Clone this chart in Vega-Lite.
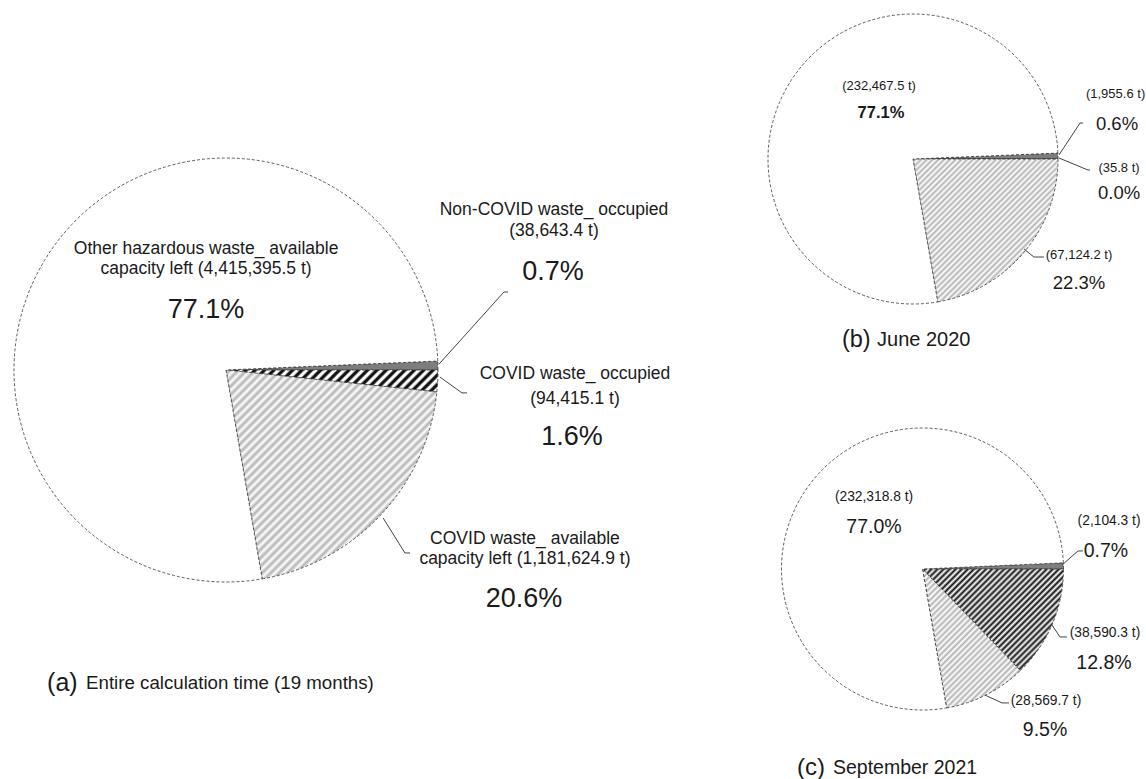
{
  "$schema": "https://vega.github.io/schema/vega-lite/v6.json",
  "padding": 0,
  "background": "#ffffff",
  "bounds": "flush",
  "spacing": 328,
  "config": {"view": {"stroke": null}},
  "datasets": {
    "slices": [
      {"panel": "a", "k": 1, "part": "Non-COVID waste_ occupied", "t": 38643.4},
      {"panel": "a", "k": 2, "part": "COVID waste_ occupied", "t": 94415.1},
      {"panel": "a", "k": 3, "part": "COVID waste_ available capacity left", "t": 1181624.9},
      {"panel": "a", "k": 4, "part": "Other hazardous waste_ available capacity left", "t": 4415395.5},
      {"panel": "b", "k": 1, "part": "Non-COVID waste_ occupied", "t": 1955.6},
      {"panel": "b", "k": 2, "part": "COVID waste_ occupied", "t": 35.8},
      {"panel": "b", "k": 3, "part": "COVID waste_ available capacity left", "t": 67124.2},
      {"panel": "b", "k": 4, "part": "Other hazardous waste_ available capacity left", "t": 232467.5},
      {"panel": "c", "k": 1, "part": "Non-COVID waste_ occupied", "t": 2104.3},
      {"panel": "c", "k": 2, "part": "COVID waste_ occupied", "t": 38590.3},
      {"panel": "c", "k": 3, "part": "COVID waste_ available capacity left", "t": 28569.7},
      {"panel": "c", "k": 4, "part": "Other hazardous waste_ available capacity left", "t": 232318.8}
    ],
    "labels": [
      {"panel": "a", "role": "name", "text": "Other hazardous waste_ available", "x": -0.094, "y": 0.571},
      {"panel": "a", "role": "name", "text": "capacity left (4,415,395.5 t)", "x": -0.094, "y": 0.476},
      {"panel": "a", "role": "pct", "text": "77.1%", "x": -0.094, "y": 0.283},
      {"panel": "a", "role": "name", "text": "Non-COVID waste_ occupied", "x": 1.547, "y": 0.755},
      {"panel": "a", "role": "name", "text": "(38,643.4 t)", "x": 1.547, "y": 0.656},
      {"panel": "a", "role": "pct", "text": "0.7%", "x": 1.542, "y": 0.462},
      {"panel": "a", "role": "name", "text": "COVID waste_ occupied", "x": 1.646, "y": -0.019},
      {"panel": "a", "role": "name", "text": "(94,415.1 t)", "x": 1.646, "y": -0.137},
      {"panel": "a", "role": "pct", "text": "1.6%", "x": 1.632, "y": -0.316},
      {"panel": "a", "role": "name", "text": "COVID waste_ available", "x": 1.41, "y": -0.797},
      {"panel": "a", "role": "name", "text": "capacity left (1,181,624.9 t)", "x": 1.41, "y": -0.892},
      {"panel": "a", "role": "pct", "text": "20.6%", "x": 1.406, "y": -1.08},
      {"panel": "a", "role": "tag", "text": "(a)", "x": -0.844, "y": -1.476},
      {"panel": "a", "role": "cap", "text": "Entire calculation time (19 months)", "x": -0.66, "y": -1.476},
      {"panel": "b", "role": "tonnes", "text": "(232,467.5 t)", "x": -0.234, "y": 0.503},
      {"panel": "b", "role": "pctb", "text": "77.1%", "x": -0.221, "y": 0.317},
      {"panel": "b", "role": "tonnes", "text": "(1,955.6 t)", "x": 1.397, "y": 0.448},
      {"panel": "b", "role": "pct", "text": "0.6%", "x": 1.407, "y": 0.241},
      {"panel": "b", "role": "tonnes", "text": "(35.8 t)", "x": 1.421, "y": -0.062},
      {"panel": "b", "role": "pct", "text": "0.0%", "x": 1.421, "y": -0.234},
      {"panel": "b", "role": "tonnes", "text": "(67,124.2 t)", "x": 1.145, "y": -0.662},
      {"panel": "b", "role": "pct", "text": "22.3%", "x": 1.145, "y": -0.855},
      {"panel": "b", "role": "tag", "text": "(b)", "x": -0.49, "y": -1.248},
      {"panel": "b", "role": "cap", "text": "June 2020", "x": -0.248, "y": -1.248},
      {"panel": "c", "role": "tonnes", "text": "(232,318.8 t)", "x": -0.344, "y": 0.511},
      {"panel": "c", "role": "pct", "text": "77.0%", "x": -0.344, "y": 0.298},
      {"panel": "c", "role": "tonnes", "text": "(2,104.3 t)", "x": 1.323, "y": 0.34},
      {"panel": "c", "role": "pct", "text": "0.7%", "x": 1.301, "y": 0.128},
      {"panel": "c", "role": "tonnes", "text": "(38,590.3 t)", "x": 1.294, "y": -0.454},
      {"panel": "c", "role": "pct", "text": "12.8%", "x": 1.287, "y": -0.667},
      {"panel": "c", "role": "tonnes", "text": "(28,569.7 t)", "x": 0.876, "y": -0.936},
      {"panel": "c", "role": "pct", "text": "9.5%", "x": 0.869, "y": -1.142},
      {"panel": "c", "role": "tag", "text": "(c)", "x": -0.89, "y": -1.411},
      {"panel": "c", "role": "cap", "text": "September 2021", "x": -0.635, "y": -1.411}
    ],
    "leaders": [
      {"panel": "a", "id": 1, "i": 0, "x": 1.005, "y": 0.028},
      {"panel": "a", "id": 1, "i": 1, "x": 1.311, "y": 0.368},
      {"panel": "a", "id": 1, "i": 2, "x": 1.33, "y": 0.368},
      {"panel": "a", "id": 2, "i": 0, "x": 1.009, "y": -0.033},
      {"panel": "a", "id": 2, "i": 1, "x": 1.113, "y": -0.108},
      {"panel": "a", "id": 2, "i": 2, "x": 1.137, "y": -0.108},
      {"panel": "a", "id": 3, "i": 0, "x": 0.741, "y": -0.698},
      {"panel": "a", "id": 3, "i": 1, "x": 0.844, "y": -0.863},
      {"panel": "a", "id": 3, "i": 2, "x": 0.868, "y": -0.863},
      {"panel": "b", "id": 1, "i": 0, "x": 1.007, "y": 0.028},
      {"panel": "b", "id": 1, "i": 1, "x": 1.152, "y": 0.248},
      {"panel": "b", "id": 1, "i": 2, "x": 1.172, "y": 0.248},
      {"panel": "b", "id": 2, "i": 0, "x": 1.007, "y": 0.007},
      {"panel": "b", "id": 2, "i": 1, "x": 1.207, "y": -0.076},
      {"panel": "b", "id": 2, "i": 2, "x": 1.221, "y": -0.076},
      {"panel": "b", "id": 3, "i": 0, "x": 0.766, "y": -0.621},
      {"panel": "b", "id": 3, "i": 1, "x": 0.834, "y": -0.676},
      {"panel": "b", "id": 3, "i": 2, "x": 0.903, "y": -0.676},
      {"panel": "c", "id": 1, "i": 0, "x": 0.989, "y": 0.028},
      {"panel": "c", "id": 1, "i": 1, "x": 1.103, "y": 0.128},
      {"panel": "c", "id": 1, "i": 2, "x": 1.138, "y": 0.128},
      {"panel": "c", "id": 2, "i": 0, "x": 0.918, "y": -0.397},
      {"panel": "c", "id": 2, "i": 1, "x": 0.975, "y": -0.482},
      {"panel": "c", "id": 2, "i": 2, "x": 1.025, "y": -0.482},
      {"panel": "c", "id": 3, "i": 0, "x": 0.443, "y": -0.894},
      {"panel": "c", "id": 3, "i": 1, "x": 0.564, "y": -0.95},
      {"panel": "c", "id": 3, "i": 2, "x": 0.613, "y": -0.95}
    ]
  },
  "hconcat": [
    {
      "width": 452,
      "height": 740,
      "layer": [
        {
          "data": {"name": "slices"},
          "transform": [{"filter": "datum.panel === 'a'"}],
          "mark": {"type": "arc", "outerRadius": 212, "stroke": "#333333", "strokeWidth": 0.8, "strokeDash": [3, 2]},
          "encoding": {
            "theta": {"field": "t", "type": "quantitative", "stack": true, "scale": {"range": [1.528422, 7.811607], "nice": false}},
            "order": {"field": "k", "type": "quantitative"},
            "fill": {
              "condition": [
                {"test": "datum.k === 1", "value": "#7d7d7d"},
                {"test": "datum.k === 2", "value": {"gradient": "linear", "x1": 0, "y1": 0, "x2": 1.092, "y2": 0.1133, "stops": [
                  {"offset": 0, "color": "#111"}, {"offset": 0.01, "color": "#111"}, {"offset": 0.02, "color": "#fff"}, {"offset": 0.03, "color": "#fff"},
                  {"offset": 0.04, "color": "#111"}, {"offset": 0.05, "color": "#111"}, {"offset": 0.06, "color": "#fff"}, {"offset": 0.07, "color": "#fff"},
                  {"offset": 0.08, "color": "#111"}, {"offset": 0.09, "color": "#111"}, {"offset": 0.1, "color": "#fff"}, {"offset": 0.11, "color": "#fff"},
                  {"offset": 0.12, "color": "#111"}, {"offset": 0.13, "color": "#111"}, {"offset": 0.14, "color": "#fff"}, {"offset": 0.15, "color": "#fff"},
                  {"offset": 0.16, "color": "#111"}, {"offset": 0.17, "color": "#111"}, {"offset": 0.18, "color": "#fff"}, {"offset": 0.19, "color": "#fff"},
                  {"offset": 0.2, "color": "#111"}, {"offset": 0.21, "color": "#111"}, {"offset": 0.22, "color": "#fff"}, {"offset": 0.23, "color": "#fff"},
                  {"offset": 0.24, "color": "#111"}, {"offset": 0.25, "color": "#111"}, {"offset": 0.26, "color": "#fff"}, {"offset": 0.27, "color": "#fff"},
                  {"offset": 0.28, "color": "#111"}, {"offset": 0.29, "color": "#111"}, {"offset": 0.3, "color": "#fff"}, {"offset": 0.31, "color": "#fff"},
                  {"offset": 0.32, "color": "#111"}, {"offset": 0.33, "color": "#111"}, {"offset": 0.34, "color": "#fff"}, {"offset": 0.35, "color": "#fff"},
                  {"offset": 0.36, "color": "#111"}, {"offset": 0.37, "color": "#111"}, {"offset": 0.38, "color": "#fff"}, {"offset": 0.39, "color": "#fff"},
                  {"offset": 0.4, "color": "#111"}, {"offset": 0.41, "color": "#111"}, {"offset": 0.42, "color": "#fff"}, {"offset": 0.43, "color": "#fff"},
                  {"offset": 0.44, "color": "#111"}, {"offset": 0.45, "color": "#111"}, {"offset": 0.46, "color": "#fff"}, {"offset": 0.47, "color": "#fff"},
                  {"offset": 0.48, "color": "#111"}, {"offset": 0.49, "color": "#111"}, {"offset": 0.5, "color": "#fff"}, {"offset": 0.51, "color": "#fff"},
                  {"offset": 0.52, "color": "#111"}, {"offset": 0.53, "color": "#111"}, {"offset": 0.54, "color": "#fff"}, {"offset": 0.55, "color": "#fff"},
                  {"offset": 0.56, "color": "#111"}, {"offset": 0.57, "color": "#111"}, {"offset": 0.58, "color": "#fff"}, {"offset": 0.59, "color": "#fff"},
                  {"offset": 0.6, "color": "#111"}, {"offset": 0.61, "color": "#111"}, {"offset": 0.62, "color": "#fff"}, {"offset": 0.63, "color": "#fff"},
                  {"offset": 0.64, "color": "#111"}, {"offset": 0.65, "color": "#111"}, {"offset": 0.66, "color": "#fff"}, {"offset": 0.67, "color": "#fff"},
                  {"offset": 0.68, "color": "#111"}, {"offset": 0.69, "color": "#111"}, {"offset": 0.7, "color": "#fff"}, {"offset": 0.71, "color": "#fff"},
                  {"offset": 0.72, "color": "#111"}, {"offset": 0.73, "color": "#111"}, {"offset": 0.74, "color": "#fff"}, {"offset": 0.75, "color": "#fff"},
                  {"offset": 0.76, "color": "#111"}, {"offset": 0.77, "color": "#111"}, {"offset": 0.78, "color": "#fff"}, {"offset": 0.79, "color": "#fff"},
                  {"offset": 0.8, "color": "#111"}, {"offset": 0.81, "color": "#111"}, {"offset": 0.82, "color": "#fff"}, {"offset": 0.83, "color": "#fff"},
                  {"offset": 0.84, "color": "#111"}, {"offset": 0.85, "color": "#111"}, {"offset": 0.86, "color": "#fff"}, {"offset": 0.87, "color": "#fff"},
                  {"offset": 0.88, "color": "#111"}, {"offset": 0.89, "color": "#111"}, {"offset": 0.9, "color": "#fff"}, {"offset": 0.91, "color": "#fff"},
                  {"offset": 0.92, "color": "#111"}, {"offset": 0.93, "color": "#111"}, {"offset": 0.94, "color": "#fff"}, {"offset": 0.95, "color": "#fff"},
                  {"offset": 0.96, "color": "#111"}, {"offset": 0.97, "color": "#111"}, {"offset": 0.98, "color": "#fff"}, {"offset": 0.99, "color": "#fff"},
                  {"offset": 1, "color": "#111"}
                ]}},
                {"test": "datum.k === 3", "value": {"gradient": "linear", "x1": 0, "y1": 0, "x2": 1.0048, "y2": 0.9953, "stops": [
                  {"offset": 0, "color": "#fff"}, {"offset": 0.01, "color": "#b3b3b3"}, {"offset": 0.02, "color": "#fff"}, {"offset": 0.03, "color": "#b3b3b3"},
                  {"offset": 0.04, "color": "#fff"}, {"offset": 0.05, "color": "#b3b3b3"}, {"offset": 0.06, "color": "#fff"}, {"offset": 0.07, "color": "#b3b3b3"},
                  {"offset": 0.08, "color": "#fff"}, {"offset": 0.09, "color": "#b3b3b3"}, {"offset": 0.1, "color": "#fff"}, {"offset": 0.11, "color": "#b3b3b3"},
                  {"offset": 0.12, "color": "#fff"}, {"offset": 0.13, "color": "#b3b3b3"}, {"offset": 0.14, "color": "#fff"}, {"offset": 0.15, "color": "#b3b3b3"},
                  {"offset": 0.16, "color": "#fff"}, {"offset": 0.17, "color": "#b3b3b3"}, {"offset": 0.18, "color": "#fff"}, {"offset": 0.19, "color": "#b3b3b3"},
                  {"offset": 0.2, "color": "#fff"}, {"offset": 0.21, "color": "#b3b3b3"}, {"offset": 0.22, "color": "#fff"}, {"offset": 0.23, "color": "#b3b3b3"},
                  {"offset": 0.24, "color": "#fff"}, {"offset": 0.25, "color": "#b3b3b3"}, {"offset": 0.26, "color": "#fff"}, {"offset": 0.27, "color": "#b3b3b3"},
                  {"offset": 0.28, "color": "#fff"}, {"offset": 0.29, "color": "#b3b3b3"}, {"offset": 0.3, "color": "#fff"}, {"offset": 0.31, "color": "#b3b3b3"},
                  {"offset": 0.32, "color": "#fff"}, {"offset": 0.33, "color": "#b3b3b3"}, {"offset": 0.34, "color": "#fff"}, {"offset": 0.35, "color": "#b3b3b3"},
                  {"offset": 0.36, "color": "#fff"}, {"offset": 0.37, "color": "#b3b3b3"}, {"offset": 0.38, "color": "#fff"}, {"offset": 0.39, "color": "#b3b3b3"},
                  {"offset": 0.4, "color": "#fff"}, {"offset": 0.41, "color": "#b3b3b3"}, {"offset": 0.42, "color": "#fff"}, {"offset": 0.43, "color": "#b3b3b3"},
                  {"offset": 0.44, "color": "#fff"}, {"offset": 0.45, "color": "#b3b3b3"}, {"offset": 0.46, "color": "#fff"}, {"offset": 0.47, "color": "#b3b3b3"},
                  {"offset": 0.48, "color": "#fff"}, {"offset": 0.49, "color": "#b3b3b3"}, {"offset": 0.5, "color": "#fff"}, {"offset": 0.51, "color": "#b3b3b3"},
                  {"offset": 0.52, "color": "#fff"}, {"offset": 0.53, "color": "#b3b3b3"}, {"offset": 0.54, "color": "#fff"}, {"offset": 0.55, "color": "#b3b3b3"},
                  {"offset": 0.56, "color": "#fff"}, {"offset": 0.57, "color": "#b3b3b3"}, {"offset": 0.58, "color": "#fff"}, {"offset": 0.59, "color": "#b3b3b3"},
                  {"offset": 0.6, "color": "#fff"}, {"offset": 0.61, "color": "#b3b3b3"}, {"offset": 0.62, "color": "#fff"}, {"offset": 0.63, "color": "#b3b3b3"},
                  {"offset": 0.64, "color": "#fff"}, {"offset": 0.65, "color": "#b3b3b3"}, {"offset": 0.66, "color": "#fff"}, {"offset": 0.67, "color": "#b3b3b3"},
                  {"offset": 0.68, "color": "#fff"}, {"offset": 0.69, "color": "#b3b3b3"}, {"offset": 0.7, "color": "#fff"}, {"offset": 0.71, "color": "#b3b3b3"},
                  {"offset": 0.72, "color": "#fff"}, {"offset": 0.73, "color": "#b3b3b3"}, {"offset": 0.74, "color": "#fff"}, {"offset": 0.75, "color": "#b3b3b3"},
                  {"offset": 0.76, "color": "#fff"}, {"offset": 0.77, "color": "#b3b3b3"}, {"offset": 0.78, "color": "#fff"}, {"offset": 0.79, "color": "#b3b3b3"},
                  {"offset": 0.8, "color": "#fff"}, {"offset": 0.81, "color": "#b3b3b3"}, {"offset": 0.82, "color": "#fff"}, {"offset": 0.83, "color": "#b3b3b3"},
                  {"offset": 0.84, "color": "#fff"}, {"offset": 0.85, "color": "#b3b3b3"}, {"offset": 0.86, "color": "#fff"}, {"offset": 0.87, "color": "#b3b3b3"},
                  {"offset": 0.88, "color": "#fff"}, {"offset": 0.89, "color": "#b3b3b3"}, {"offset": 0.9, "color": "#fff"}, {"offset": 0.91, "color": "#b3b3b3"},
                  {"offset": 0.92, "color": "#fff"}, {"offset": 0.93, "color": "#b3b3b3"}, {"offset": 0.94, "color": "#fff"}, {"offset": 0.95, "color": "#b3b3b3"},
                  {"offset": 0.96, "color": "#fff"}, {"offset": 0.97, "color": "#b3b3b3"}, {"offset": 0.98, "color": "#fff"}, {"offset": 0.99, "color": "#b3b3b3"},
                  {"offset": 1, "color": "#fff"}
                ]}}
              ],
              "value": "#ffffff"
            }
          }
        },
        {
          "data": {"name": "leaders"},
          "transform": [{"filter": "datum.panel === 'a'"}],
          "mark": {"type": "line", "stroke": "#444444", "strokeWidth": 1},
          "encoding": {
            "x": {"field": "x", "type": "quantitative", "scale": {"domain": [-1.066, 1.066], "nice": false, "zero": false}, "axis": null},
            "y": {"field": "y", "type": "quantitative", "scale": {"domain": [-1.7453, 1.7453], "nice": false, "zero": false}, "axis": null},
            "detail": {"field": "id", "type": "nominal"},
            "order": {"field": "i", "type": "quantitative"}
          }
        },
        {
          "data": {"name": "labels"},
          "transform": [{"filter": "datum.panel === 'a' && (datum.role === 'name' || datum.role === 'pct')"}],
          "mark": {"type": "text", "align": "center", "baseline": "middle", "font": "Liberation Sans", "color": "#1a1a1a"},
          "encoding": {
            "x": {"field": "x", "type": "quantitative", "scale": {"domain": [-1.066, 1.066], "nice": false, "zero": false}, "axis": null},
            "y": {"field": "y", "type": "quantitative", "scale": {"domain": [-1.7453, 1.7453], "nice": false, "zero": false}, "axis": null},
            "text": {"field": "text"},
            "size": {"condition": {"test": "datum.role === 'pct'", "value": 27}, "value": 17.5}
          }
        },
        {
          "data": {"name": "labels"},
          "transform": [{"filter": "datum.panel === 'a' && (datum.role === 'tag' || datum.role === 'cap')"}],
          "mark": {"type": "text", "align": "left", "baseline": "middle", "font": "Liberation Sans", "color": "#1a1a1a"},
          "encoding": {
            "x": {"field": "x", "type": "quantitative", "scale": {"domain": [-1.066, 1.066], "nice": false, "zero": false}, "axis": null},
            "y": {"field": "y", "type": "quantitative", "scale": {"domain": [-1.7453, 1.7453], "nice": false, "zero": false}, "axis": null},
            "text": {"field": "text"},
            "size": {"condition": {"test": "datum.role === 'tag'", "value": 25}, "value": 18.7}
          }
        }
      ]
    },
    {
      "vconcat": [
        {
          "width": 266,
          "height": 318,
          "layer": [
            {
              "data": {"name": "slices"},
              "transform": [{"filter": "datum.panel === 'b'"}],
              "mark": {"type": "arc", "outerRadius": 145, "stroke": "#333333", "strokeWidth": 0.8, "strokeDash": [3, 2]},
              "encoding": {
                "theta": {"field": "t", "type": "quantitative", "stack": true, "scale": {"range": [1.530053, 7.813238], "nice": false}},
                "order": {"field": "k", "type": "quantitative"},
                "fill": {
                  "condition": [
                    {"test": "datum.k === 1", "value": "#7d7d7d"},
                    {"test": "datum.k === 2", "value": "#111111"},
                    {"test": "datum.k === 3", "value": {"gradient": "linear", "x1": 0, "y1": 0, "x2": 1.0073, "y2": 0.9927, "stops": [
                      {"offset": 0, "color": "#fff"}, {"offset": 0.01, "color": "#b3b3b3"}, {"offset": 0.02, "color": "#fff"}, {"offset": 0.03, "color": "#b3b3b3"},
                      {"offset": 0.04, "color": "#fff"}, {"offset": 0.05, "color": "#b3b3b3"}, {"offset": 0.06, "color": "#fff"}, {"offset": 0.07, "color": "#b3b3b3"},
                      {"offset": 0.08, "color": "#fff"}, {"offset": 0.09, "color": "#b3b3b3"}, {"offset": 0.1, "color": "#fff"}, {"offset": 0.11, "color": "#b3b3b3"},
                      {"offset": 0.12, "color": "#fff"}, {"offset": 0.13, "color": "#b3b3b3"}, {"offset": 0.14, "color": "#fff"}, {"offset": 0.15, "color": "#b3b3b3"},
                      {"offset": 0.16, "color": "#fff"}, {"offset": 0.17, "color": "#b3b3b3"}, {"offset": 0.18, "color": "#fff"}, {"offset": 0.19, "color": "#b3b3b3"},
                      {"offset": 0.2, "color": "#fff"}, {"offset": 0.21, "color": "#b3b3b3"}, {"offset": 0.22, "color": "#fff"}, {"offset": 0.23, "color": "#b3b3b3"},
                      {"offset": 0.24, "color": "#fff"}, {"offset": 0.25, "color": "#b3b3b3"}, {"offset": 0.26, "color": "#fff"}, {"offset": 0.27, "color": "#b3b3b3"},
                      {"offset": 0.28, "color": "#fff"}, {"offset": 0.29, "color": "#b3b3b3"}, {"offset": 0.3, "color": "#fff"}, {"offset": 0.31, "color": "#b3b3b3"},
                      {"offset": 0.32, "color": "#fff"}, {"offset": 0.33, "color": "#b3b3b3"}, {"offset": 0.34, "color": "#fff"}, {"offset": 0.35, "color": "#b3b3b3"},
                      {"offset": 0.36, "color": "#fff"}, {"offset": 0.37, "color": "#b3b3b3"}, {"offset": 0.38, "color": "#fff"}, {"offset": 0.39, "color": "#b3b3b3"},
                      {"offset": 0.4, "color": "#fff"}, {"offset": 0.41, "color": "#b3b3b3"}, {"offset": 0.42, "color": "#fff"}, {"offset": 0.43, "color": "#b3b3b3"},
                      {"offset": 0.44, "color": "#fff"}, {"offset": 0.45, "color": "#b3b3b3"}, {"offset": 0.46, "color": "#fff"}, {"offset": 0.47, "color": "#b3b3b3"},
                      {"offset": 0.48, "color": "#fff"}, {"offset": 0.49, "color": "#b3b3b3"}, {"offset": 0.5, "color": "#fff"}, {"offset": 0.51, "color": "#b3b3b3"},
                      {"offset": 0.52, "color": "#fff"}, {"offset": 0.53, "color": "#b3b3b3"}, {"offset": 0.54, "color": "#fff"}, {"offset": 0.55, "color": "#b3b3b3"},
                      {"offset": 0.56, "color": "#fff"}, {"offset": 0.57, "color": "#b3b3b3"}, {"offset": 0.58, "color": "#fff"}, {"offset": 0.59, "color": "#b3b3b3"},
                      {"offset": 0.6, "color": "#fff"}, {"offset": 0.61, "color": "#b3b3b3"}, {"offset": 0.62, "color": "#fff"}, {"offset": 0.63, "color": "#b3b3b3"},
                      {"offset": 0.64, "color": "#fff"}, {"offset": 0.65, "color": "#b3b3b3"}, {"offset": 0.66, "color": "#fff"}, {"offset": 0.67, "color": "#b3b3b3"},
                      {"offset": 0.68, "color": "#fff"}, {"offset": 0.69, "color": "#b3b3b3"}, {"offset": 0.7, "color": "#fff"}, {"offset": 0.71, "color": "#b3b3b3"},
                      {"offset": 0.72, "color": "#fff"}, {"offset": 0.73, "color": "#b3b3b3"}, {"offset": 0.74, "color": "#fff"}, {"offset": 0.75, "color": "#b3b3b3"},
                      {"offset": 0.76, "color": "#fff"}, {"offset": 0.77, "color": "#b3b3b3"}, {"offset": 0.78, "color": "#fff"}, {"offset": 0.79, "color": "#b3b3b3"},
                      {"offset": 0.8, "color": "#fff"}, {"offset": 0.81, "color": "#b3b3b3"}, {"offset": 0.82, "color": "#fff"}, {"offset": 0.83, "color": "#b3b3b3"},
                      {"offset": 0.84, "color": "#fff"}, {"offset": 0.85, "color": "#b3b3b3"}, {"offset": 0.86, "color": "#fff"}, {"offset": 0.87, "color": "#b3b3b3"},
                      {"offset": 0.88, "color": "#fff"}, {"offset": 0.89, "color": "#b3b3b3"}, {"offset": 0.9, "color": "#fff"}, {"offset": 0.91, "color": "#b3b3b3"},
                      {"offset": 0.92, "color": "#fff"}, {"offset": 0.93, "color": "#b3b3b3"}, {"offset": 0.94, "color": "#fff"}, {"offset": 0.95, "color": "#b3b3b3"},
                      {"offset": 0.96, "color": "#fff"}, {"offset": 0.97, "color": "#b3b3b3"}, {"offset": 0.98, "color": "#fff"}, {"offset": 0.99, "color": "#b3b3b3"},
                      {"offset": 1, "color": "#fff"}
                    ]}}
                  ],
                  "value": "#ffffff"
                }
              }
            },
            {
              "data": {"name": "leaders"},
              "transform": [{"filter": "datum.panel === 'b'"}],
              "mark": {"type": "line", "stroke": "#444444", "strokeWidth": 1},
              "encoding": {
                "x": {"field": "x", "type": "quantitative", "scale": {"domain": [-0.9172, 0.9172], "nice": false, "zero": false}, "axis": null},
                "y": {"field": "y", "type": "quantitative", "scale": {"domain": [-1.0966, 1.0966], "nice": false, "zero": false}, "axis": null},
                "detail": {"field": "id", "type": "nominal"},
                "order": {"field": "i", "type": "quantitative"}
              }
            },
            {
              "data": {"name": "labels"},
              "transform": [{"filter": "datum.panel === 'b' && (datum.role === 'tonnes' || datum.role === 'pct')"}],
              "mark": {"type": "text", "align": "center", "baseline": "middle", "font": "Liberation Sans", "color": "#1a1a1a"},
              "encoding": {
                "x": {"field": "x", "type": "quantitative", "scale": {"domain": [-0.9172, 0.9172], "nice": false, "zero": false}, "axis": null},
                "y": {"field": "y", "type": "quantitative", "scale": {"domain": [-1.0966, 1.0966], "nice": false, "zero": false}, "axis": null},
                "text": {"field": "text"},
                "size": {"condition": {"test": "datum.role === 'pct'", "value": 18.5}, "value": 13}
              }
            },
            {
              "data": {"name": "labels"},
              "transform": [{"filter": "datum.panel === 'b' && datum.role === 'pctb'"}],
              "mark": {"type": "text", "align": "center", "baseline": "middle", "font": "Liberation Sans", "fontWeight": "bold", "fontSize": 16.5, "color": "#1a1a1a"},
              "encoding": {
                "x": {"field": "x", "type": "quantitative", "scale": {"domain": [-0.9172, 0.9172], "nice": false, "zero": false}, "axis": null},
                "y": {"field": "y", "type": "quantitative", "scale": {"domain": [-1.0966, 1.0966], "nice": false, "zero": false}, "axis": null},
                "text": {"field": "text"}
              }
            },
            {
              "data": {"name": "labels"},
              "transform": [{"filter": "datum.panel === 'b' && (datum.role === 'tag' || datum.role === 'cap')"}],
              "mark": {"type": "text", "align": "left", "baseline": "middle", "font": "Liberation Sans", "color": "#1a1a1a"},
              "encoding": {
                "x": {"field": "x", "type": "quantitative", "scale": {"domain": [-0.9172, 0.9172], "nice": false, "zero": false}, "axis": null},
                "y": {"field": "y", "type": "quantitative", "scale": {"domain": [-1.0966, 1.0966], "nice": false, "zero": false}, "axis": null},
                "text": {"field": "text"},
                "size": {"condition": {"test": "datum.role === 'tag'", "value": 23.5}, "value": 20}
              }
            }
          ]
        },
        {
          "width": 285,
          "height": 360,
          "layer": [
            {
              "data": {"name": "slices"},
              "transform": [{"filter": "datum.panel === 'c'"}],
              "mark": {"type": "arc", "outerRadius": 141, "stroke": "#333333", "strokeWidth": 0.8, "strokeDash": [3, 2]},
              "encoding": {
                "theta": {"field": "t", "type": "quantitative", "stack": true, "scale": {"range": [1.526955, 7.81014], "nice": false}},
                "order": {"field": "k", "type": "quantitative"},
                "fill": {
                  "condition": [
                    {"test": "datum.k === 1", "value": "#7d7d7d"},
                    {"test": "datum.k === 2", "value": {"gradient": "linear", "x1": 0, "y1": 0, "x2": 1.1328, "y2": 0.8156, "stops": [
                      {"offset": 0, "color": "#fff"}, {"offset": 0.0125, "color": "#111"}, {"offset": 0.025, "color": "#fff"}, {"offset": 0.0375, "color": "#111"},
                      {"offset": 0.05, "color": "#fff"}, {"offset": 0.0625, "color": "#111"}, {"offset": 0.075, "color": "#fff"}, {"offset": 0.0875, "color": "#111"},
                      {"offset": 0.1, "color": "#fff"}, {"offset": 0.1125, "color": "#111"}, {"offset": 0.125, "color": "#fff"}, {"offset": 0.1375, "color": "#111"},
                      {"offset": 0.15, "color": "#fff"}, {"offset": 0.1625, "color": "#111"}, {"offset": 0.175, "color": "#fff"}, {"offset": 0.1875, "color": "#111"},
                      {"offset": 0.2, "color": "#fff"}, {"offset": 0.2125, "color": "#111"}, {"offset": 0.225, "color": "#fff"}, {"offset": 0.2375, "color": "#111"},
                      {"offset": 0.25, "color": "#fff"}, {"offset": 0.2625, "color": "#111"}, {"offset": 0.275, "color": "#fff"}, {"offset": 0.2875, "color": "#111"},
                      {"offset": 0.3, "color": "#fff"}, {"offset": 0.3125, "color": "#111"}, {"offset": 0.325, "color": "#fff"}, {"offset": 0.3375, "color": "#111"},
                      {"offset": 0.35, "color": "#fff"}, {"offset": 0.3625, "color": "#111"}, {"offset": 0.375, "color": "#fff"}, {"offset": 0.3875, "color": "#111"},
                      {"offset": 0.4, "color": "#fff"}, {"offset": 0.4125, "color": "#111"}, {"offset": 0.425, "color": "#fff"}, {"offset": 0.4375, "color": "#111"},
                      {"offset": 0.45, "color": "#fff"}, {"offset": 0.4625, "color": "#111"}, {"offset": 0.475, "color": "#fff"}, {"offset": 0.4875, "color": "#111"},
                      {"offset": 0.5, "color": "#fff"}, {"offset": 0.5125, "color": "#111"}, {"offset": 0.525, "color": "#fff"}, {"offset": 0.5375, "color": "#111"},
                      {"offset": 0.55, "color": "#fff"}, {"offset": 0.5625, "color": "#111"}, {"offset": 0.575, "color": "#fff"}, {"offset": 0.5875, "color": "#111"},
                      {"offset": 0.6, "color": "#fff"}, {"offset": 0.6125, "color": "#111"}, {"offset": 0.625, "color": "#fff"}, {"offset": 0.6375, "color": "#111"},
                      {"offset": 0.65, "color": "#fff"}, {"offset": 0.6625, "color": "#111"}, {"offset": 0.675, "color": "#fff"}, {"offset": 0.6875, "color": "#111"},
                      {"offset": 0.7, "color": "#fff"}, {"offset": 0.7125, "color": "#111"}, {"offset": 0.725, "color": "#fff"}, {"offset": 0.7375, "color": "#111"},
                      {"offset": 0.75, "color": "#fff"}, {"offset": 0.7625, "color": "#111"}, {"offset": 0.775, "color": "#fff"}, {"offset": 0.7875, "color": "#111"},
                      {"offset": 0.8, "color": "#fff"}, {"offset": 0.8125, "color": "#111"}, {"offset": 0.825, "color": "#fff"}, {"offset": 0.8375, "color": "#111"},
                      {"offset": 0.85, "color": "#fff"}, {"offset": 0.8625, "color": "#111"}, {"offset": 0.875, "color": "#fff"}, {"offset": 0.8875, "color": "#111"},
                      {"offset": 0.9, "color": "#fff"}, {"offset": 0.9125, "color": "#111"}, {"offset": 0.925, "color": "#fff"}, {"offset": 0.9375, "color": "#111"},
                      {"offset": 0.95, "color": "#fff"}, {"offset": 0.9625, "color": "#111"}, {"offset": 0.975, "color": "#fff"}, {"offset": 0.9875, "color": "#111"},
                      {"offset": 1, "color": "#fff"}
                    ]}},
                    {"test": "datum.k === 3", "value": {"gradient": "linear", "x1": 0, "y1": 0, "x2": 0.8028, "y2": 1.139, "stops": [
                      {"offset": 0, "color": "#fff"}, {"offset": 0.0125, "color": "#b3b3b3"}, {"offset": 0.025, "color": "#fff"}, {"offset": 0.0375, "color": "#b3b3b3"},
                      {"offset": 0.05, "color": "#fff"}, {"offset": 0.0625, "color": "#b3b3b3"}, {"offset": 0.075, "color": "#fff"}, {"offset": 0.0875, "color": "#b3b3b3"},
                      {"offset": 0.1, "color": "#fff"}, {"offset": 0.1125, "color": "#b3b3b3"}, {"offset": 0.125, "color": "#fff"}, {"offset": 0.1375, "color": "#b3b3b3"},
                      {"offset": 0.15, "color": "#fff"}, {"offset": 0.1625, "color": "#b3b3b3"}, {"offset": 0.175, "color": "#fff"}, {"offset": 0.1875, "color": "#b3b3b3"},
                      {"offset": 0.2, "color": "#fff"}, {"offset": 0.2125, "color": "#b3b3b3"}, {"offset": 0.225, "color": "#fff"}, {"offset": 0.2375, "color": "#b3b3b3"},
                      {"offset": 0.25, "color": "#fff"}, {"offset": 0.2625, "color": "#b3b3b3"}, {"offset": 0.275, "color": "#fff"}, {"offset": 0.2875, "color": "#b3b3b3"},
                      {"offset": 0.3, "color": "#fff"}, {"offset": 0.3125, "color": "#b3b3b3"}, {"offset": 0.325, "color": "#fff"}, {"offset": 0.3375, "color": "#b3b3b3"},
                      {"offset": 0.35, "color": "#fff"}, {"offset": 0.3625, "color": "#b3b3b3"}, {"offset": 0.375, "color": "#fff"}, {"offset": 0.3875, "color": "#b3b3b3"},
                      {"offset": 0.4, "color": "#fff"}, {"offset": 0.4125, "color": "#b3b3b3"}, {"offset": 0.425, "color": "#fff"}, {"offset": 0.4375, "color": "#b3b3b3"},
                      {"offset": 0.45, "color": "#fff"}, {"offset": 0.4625, "color": "#b3b3b3"}, {"offset": 0.475, "color": "#fff"}, {"offset": 0.4875, "color": "#b3b3b3"},
                      {"offset": 0.5, "color": "#fff"}, {"offset": 0.5125, "color": "#b3b3b3"}, {"offset": 0.525, "color": "#fff"}, {"offset": 0.5375, "color": "#b3b3b3"},
                      {"offset": 0.55, "color": "#fff"}, {"offset": 0.5625, "color": "#b3b3b3"}, {"offset": 0.575, "color": "#fff"}, {"offset": 0.5875, "color": "#b3b3b3"},
                      {"offset": 0.6, "color": "#fff"}, {"offset": 0.6125, "color": "#b3b3b3"}, {"offset": 0.625, "color": "#fff"}, {"offset": 0.6375, "color": "#b3b3b3"},
                      {"offset": 0.65, "color": "#fff"}, {"offset": 0.6625, "color": "#b3b3b3"}, {"offset": 0.675, "color": "#fff"}, {"offset": 0.6875, "color": "#b3b3b3"},
                      {"offset": 0.7, "color": "#fff"}, {"offset": 0.7125, "color": "#b3b3b3"}, {"offset": 0.725, "color": "#fff"}, {"offset": 0.7375, "color": "#b3b3b3"},
                      {"offset": 0.75, "color": "#fff"}, {"offset": 0.7625, "color": "#b3b3b3"}, {"offset": 0.775, "color": "#fff"}, {"offset": 0.7875, "color": "#b3b3b3"},
                      {"offset": 0.8, "color": "#fff"}, {"offset": 0.8125, "color": "#b3b3b3"}, {"offset": 0.825, "color": "#fff"}, {"offset": 0.8375, "color": "#b3b3b3"},
                      {"offset": 0.85, "color": "#fff"}, {"offset": 0.8625, "color": "#b3b3b3"}, {"offset": 0.875, "color": "#fff"}, {"offset": 0.8875, "color": "#b3b3b3"},
                      {"offset": 0.9, "color": "#fff"}, {"offset": 0.9125, "color": "#b3b3b3"}, {"offset": 0.925, "color": "#fff"}, {"offset": 0.9375, "color": "#b3b3b3"},
                      {"offset": 0.95, "color": "#fff"}, {"offset": 0.9625, "color": "#b3b3b3"}, {"offset": 0.975, "color": "#fff"}, {"offset": 0.9875, "color": "#b3b3b3"},
                      {"offset": 1, "color": "#fff"}
                    ]}}
                  ],
                  "value": "#ffffff"
                }
              }
            },
            {
              "data": {"name": "leaders"},
              "transform": [{"filter": "datum.panel === 'c'"}],
              "mark": {"type": "line", "stroke": "#444444", "strokeWidth": 1},
              "encoding": {
                "x": {"field": "x", "type": "quantitative", "scale": {"domain": [-1.0106, 1.0106], "nice": false, "zero": false}, "axis": null},
                "y": {"field": "y", "type": "quantitative", "scale": {"domain": [-1.2766, 1.2766], "nice": false, "zero": false}, "axis": null},
                "detail": {"field": "id", "type": "nominal"},
                "order": {"field": "i", "type": "quantitative"}
              }
            },
            {
              "data": {"name": "labels"},
              "transform": [{"filter": "datum.panel === 'c' && (datum.role === 'tonnes' || datum.role === 'pct')"}],
              "mark": {"type": "text", "align": "center", "baseline": "middle", "font": "Liberation Sans", "color": "#1a1a1a"},
              "encoding": {
                "x": {"field": "x", "type": "quantitative", "scale": {"domain": [-1.0106, 1.0106], "nice": false, "zero": false}, "axis": null},
                "y": {"field": "y", "type": "quantitative", "scale": {"domain": [-1.2766, 1.2766], "nice": false, "zero": false}, "axis": null},
                "text": {"field": "text"},
                "size": {"condition": {"test": "datum.role === 'pct'", "value": 19.5}, "value": 13.8}
              }
            },
            {
              "data": {"name": "labels"},
              "transform": [{"filter": "datum.panel === 'c' && (datum.role === 'tag' || datum.role === 'cap')"}],
              "mark": {"type": "text", "align": "left", "baseline": "middle", "font": "Liberation Sans", "color": "#1a1a1a"},
              "encoding": {
                "x": {"field": "x", "type": "quantitative", "scale": {"domain": [-1.0106, 1.0106], "nice": false, "zero": false}, "axis": null},
                "y": {"field": "y", "type": "quantitative", "scale": {"domain": [-1.2766, 1.2766], "nice": false, "zero": false}, "axis": null},
                "text": {"field": "text"},
                "size": {"condition": {"test": "datum.role === 'tag'", "value": 24}, "value": 19.5}
              }
            }
          ]
        }
      ],
      "spacing": 71,
      "bounds": "flush"
    }
  ]
}
